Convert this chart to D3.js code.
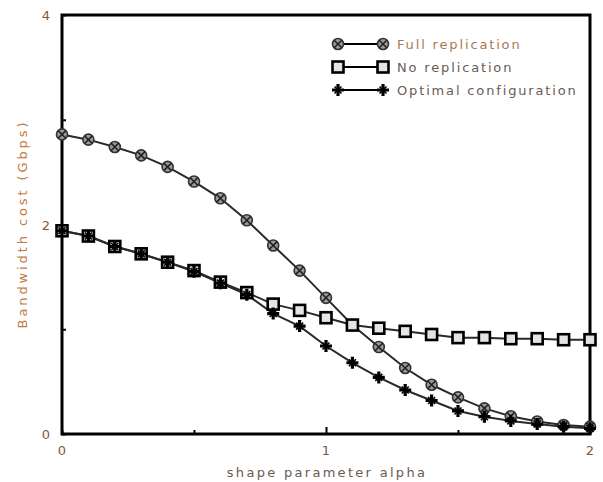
<!DOCTYPE html>
<html><head><meta charset="utf-8">
<script src="https://cdn.jsdelivr.net/npm/d3@7"></script>
<style>body{margin:0;background:#fff}svg{display:block}</style>
</head><body><svg id="c" width="603" height="482"></svg>
<script>
const alphas = [0,0.1,0.2,0.3,0.4,0.5,0.6,0.7,0.8,0.9,1.0,1.1,1.2,1.3,1.4,1.5,1.6,1.7,1.8,1.9,2.0];
const fullRep = [2.86,2.81,2.74,2.66,2.55,2.41,2.25,2.04,1.80,1.56,1.30,1.04,0.83,0.63,0.47,0.35,0.245,0.17,0.12,0.086,0.07];
const noRep   = [1.94,1.89,1.79,1.72,1.64,1.56,1.45,1.35,1.24,1.18,1.11,1.04,1.01,0.98,0.95,0.92,0.92,0.91,0.91,0.90,0.90];
const optimal = [1.94,1.89,1.79,1.72,1.64,1.55,1.44,1.33,1.15,1.03,0.84,0.68,0.54,0.42,0.32,0.22,0.165,0.125,0.095,0.07,0.054];
const xTicks = [0,1,2];
const yTicks = [0,2,4];
const seriesNames = ["Full replication","No replication","Optimal configuration"];

const svg = d3.select("#c");
const L=62,R=590,T=15,B=434;
const x = d3.scaleLinear().domain([0,2]).range([L,R]);
const y = d3.scaleLinear().domain([0,4]).range([B,T]);
const font = "DejaVu Sans, sans-serif";
const textCol = "#7a5a44";

// ticks (inward)
const gx = svg.append("g").attr("transform",`translate(0,${B})`)
  .call(d3.axisBottom(x).tickValues([0,0.5,1,1.5,2]).tickSizeInner(-4).tickSizeOuter(0).tickFormat(""));
gx.select(".domain").remove();
gx.selectAll("line").attr("stroke","#000").attr("stroke-width",2)
  .attr("y2",(d)=> d===1? -7 : -4);
const gy = svg.append("g").attr("transform",`translate(${L},0)`)
  .call(d3.axisLeft(y).tickValues([0,1,2,3,4]).tickSizeInner(-4).tickSizeOuter(0).tickFormat(""));
gy.select(".domain").remove();
gy.selectAll("line").attr("stroke","#000").attr("stroke-width",2);

// frame
svg.append("rect").attr("x",L).attr("y",T).attr("width",R-L).attr("height",B-T)
  .attr("fill","none").attr("stroke","#000").attr("stroke-width",3);

// tick labels
svg.selectAll(".xl").data(xTicks).enter().append("text")
  .attr("x",d=>x(d)).attr("y",455).attr("text-anchor","middle")
  .attr("font-family",font).attr("font-size",13).attr("fill",textCol).text(d=>d);
svg.selectAll(".yl").data(yTicks).enter().append("text")
  .attr("x",50).attr("y",d=>y(d)+5).attr("text-anchor","end")
  .attr("font-family",font).attr("font-size",13).attr("fill",textCol).text(d=>d);

// axis titles
svg.append("text").attr("x",327).attr("y",477).attr("text-anchor","middle")
  .attr("font-family",font).attr("font-size",13).attr("letter-spacing",2.3)
  .attr("fill","#6a5a50").text("shape parameter alpha");
svg.append("text").attr("transform",`translate(27,${224}) rotate(-90)`).attr("text-anchor","middle")
  .attr("font-family",font).attr("font-size",13).attr("letter-spacing",2.9)
  .attr("fill","#c27a3e").text("Bandwidth cost (Gbps)");

// markers
function marker(g,type){
  if(type===0){
    g.append("circle").attr("r",5.5).attr("fill","#9a9a9a").attr("stroke","#333").attr("stroke-width",1.6);
    g.append("path").attr("d","M-3.8,-3.8L3.8,3.8M-3.8,3.8L3.8,-3.8").attr("stroke","#222").attr("stroke-width",1.6);
  } else if(type===1){
    g.append("rect").attr("x",-5.5).attr("y",-5.5).attr("width",11).attr("height",11)
      .attr("fill","#e4e4e4").attr("stroke","#000").attr("stroke-width",2.6);
  } else {
    g.append("path").attr("d","M-6,0L6,0M0,-6L0,6").attr("stroke","#000").attr("stroke-width",3.2);
    g.append("path").attr("d","M-3.5,-3.5L3.5,3.5M-3.5,3.5L3.5,-3.5").attr("stroke","#000").attr("stroke-width",1.6);
  }
}

const all = [fullRep,noRep,optimal];
const line = d3.line().x((d,i)=>x(alphas[i])).y(d=>y(d));
all.forEach((vals,s)=>{
  svg.append("path").datum(vals).attr("d",line).attr("fill","none")
    .attr("stroke","#2a2a2a").attr("stroke-width",2);
});
all.forEach((vals,s)=>{
  vals.forEach((v,i)=>{
    const g = svg.append("g").attr("transform",`translate(${x(alphas[i])},${y(v)})`);
    marker(g,s);
  });
});

// legend
const legY = [44,67,90];
seriesNames.forEach((n,s)=>{
  svg.append("line").attr("x1",338).attr("x2",383).attr("y1",legY[s]).attr("y2",legY[s])
    .attr("stroke","#000").attr("stroke-width",2);
  [338,383].forEach(px=>{ marker(svg.append("g").attr("transform",`translate(${px},${legY[s]})`),s); });
  svg.append("text").attr("x",397).attr("y",legY[s]+5).attr("font-family",font).attr("font-size",13)
    .attr("letter-spacing",1.85).attr("fill", s===0? "#a87a55" : "#6a5a55").text(n);
});
</script></body></html>
